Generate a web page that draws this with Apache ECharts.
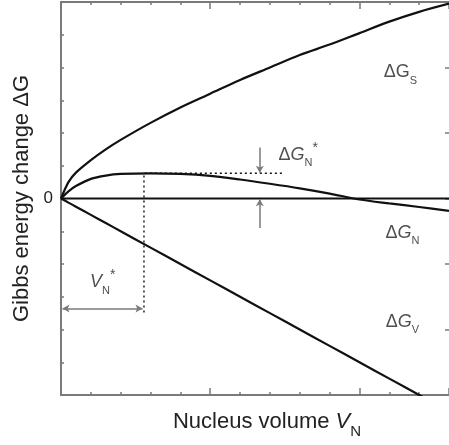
<!DOCTYPE html>
<html>
<head>
<meta charset="utf-8">
<script src="https://cdn.jsdelivr.net/npm/echarts@6/dist/echarts.min.js"></script>
<style>
  html, body { margin: 0; padding: 0; background: #fff; }
  #chart { width: 449px; height: 445px; }
</style>
</head>
<body>
<div id="chart"></div>
<script>
// nucleus volume (arbitrary units) and the three energy terms
const volumes = [0, 0.25, 0.5, 1, 1.5, 2, 3, 4, 5, 6, 7, 8, 9, 10, 11, 12, 13];
const surfaceG = [0, 0.5, 0.79, 1.17, 1.5, 1.79, 2.31, 2.78, 3.2, 3.62, 4.0, 4.38, 4.7, 5.05, 5.4, 5.7, 5.95];
const nucleusG = [0, 0.22, 0.38, 0.6, 0.7, 0.75, 0.77, 0.75, 0.69, 0.58, 0.45, 0.31, 0.15, -0.03, -0.15, -0.26, -0.38];
const volumeG = [0, -0.125, -0.25, -0.5, -0.75, -1, -1.5, -2, -2.5, -3, -3.5, -4, -4.5, -5, -5.5, -6, -6.5];

// critical nucleus
const criticalV = 2.78;
const criticalG = 0.77;

const zip = (xs, ys) => xs.map((x, i) => [x, ys[i]]);

const chartDom = document.getElementById('chart');
const chart = echarts.init(chartDom);

const axisGray = '#7a7a7a';
const ink = '#111';
const textInk = '#222';

const rich = {
  d: { fontSize: 18, color: textInk, fontFamily: 'Liberation Sans' },
  g: { fontSize: 18, color: textInk, fontStyle: 'italic', fontFamily: 'Liberation Sans' },
  gu: { fontSize: 18, color: textInk, fontFamily: 'Liberation Sans' },
  sub: { fontSize: 11, color: textInk, fontFamily: 'Liberation Sans', verticalAlign: 'bottom', lineHeight: 28 },
  sup: { fontSize: 14, color: textInk, fontFamily: 'Liberation Sans', verticalAlign: 'top', lineHeight: 28 }
};

const labels = [
  { value: [11.37, 3.86], text: '{d|Δ}{gu|G}{sub|S}' },
  { value: [7.95, 1.33], text: '{d|Δ}{g|G}{sub|N}{sup|*}' },
  { value: [11.44, -1.05], text: '{d|Δ}{g|G}{sub|N}' },
  { value: [11.44, -3.77], text: '{d|Δ}{g|G}{sub|V}' },
  { value: [1.4, -2.55], text: '{g|V}{sub|N}{sup|*}' }
];

const curve = (name, data) => ({
  name, type: 'line', data, smooth: 0.3, showSymbol: false,
  lineStyle: { color: ink, width: 2.2 }, xAxisIndex: 0, yAxisIndex: 0
});

const arrow = (from, to, both) => ({
  symbol: [both ? 'arrow' : 'none', 'arrow'],
  symbolSize: [6, 7],
  lineStyle: { color: axisGray, width: 1.5, type: 'solid' },
  data: [[{ coord: from }, { coord: to }]],
  label: { show: false },
  silent: true
});

const minorTicks = { show: true, inside: true, length: 3, lineStyle: { color: axisGray, width: 1.5 } };
const majorTicks = { show: true, inside: true, length: 7, lineStyle: { color: axisGray, width: 1.5 } };
const axisLine = { show: true, onZero: false, lineStyle: { color: axisGray, width: 2 } };
const noLine = { show: false, onZero: false };

const options = {
  animation: false,
  grid: { left: 61, right: -3, top: 2, bottom: 50 },
  xAxis: [
    {
      type: 'value', min: 0, max: 13, interval: 1, position: 'bottom',
      axisLine, axisTick: minorTicks, axisLabel: { show: false }, splitLine: { show: false },
      name: '{n|Nucleus volume }{v|V}{s|N}', nameLocation: 'middle', nameGap: 10,
      nameTextStyle: {
        padding: [0, 0, 0, 24],
        rich: {
          n: { fontSize: 22, color: textInk, fontFamily: 'Liberation Sans' },
          v: { fontSize: 22, color: textInk, fontStyle: 'italic', fontFamily: 'Liberation Sans' },
          s: { fontSize: 15, color: textInk, fontFamily: 'Liberation Sans', verticalAlign: 'bottom', lineHeight: 34 }
        }
      }
    },
    {
      type: 'value', min: 0, max: 13, interval: 5, position: 'bottom',
      axisLine: noLine, axisTick: majorTicks, axisLabel: { show: false }, splitLine: { show: false }
    },
    {
      type: 'value', min: 0, max: 13, interval: 1, position: 'top',
      axisLine, axisTick: minorTicks, axisLabel: { show: false }, splitLine: { show: false }
    },
    {
      type: 'value', min: 0, max: 13, interval: 5, position: 'top',
      axisLine: noLine, axisTick: majorTicks, axisLabel: { show: false }, splitLine: { show: false }
    }
  ],
  yAxis: [
    {
      type: 'value', min: -6, max: 6, interval: 1, position: 'left',
      axisLine, axisTick: minorTicks, splitLine: { show: false },
      axisLabel: {
        formatter: v => (v === 0 ? '0' : ''),
        fontSize: 17, color: textInk, margin: 8, fontFamily: 'Liberation Sans'
      },
      name: 'Gibbs energy change ΔG', nameLocation: 'middle', nameGap: 27,
      nameTextStyle: { fontSize: 22, color: textInk, fontFamily: 'Liberation Sans' }
    },
    {
      type: 'value', min: -6, max: 6, interval: 2, position: 'right',
      axisLine: noLine, axisTick: { show: true, inside: true, length: 4, lineStyle: { color: axisGray, width: 1.5 } },
      axisLabel: { show: false }, splitLine: { show: false }
    }
  ],
  series: [
    {
      name: 'zero', type: 'line', data: [[0, 0], [13, 0]], showSymbol: false,
      lineStyle: { color: ink, width: 2.2 }
    },
    curve('ΔGs', zip(volumes, surfaceG)),
    curve('ΔGv', zip(volumes, volumeG)),
    curve('ΔGn', zip(volumes, nucleusG)),
    {
      name: 'guides', type: 'line', showSymbol: false,
      data: [[7.4, criticalG], [criticalV, criticalG], [criticalV, -3.55]],
      lineStyle: { color: ink, width: 1.4, type: [2, 3] }
    },
    {
      name: 'arrows', type: 'line', data: [], showSymbol: false,
      markLine: arrow([6.66, 1.56], [6.66, criticalG + 0.02], false)
    },
    {
      name: 'arrows2', type: 'line', data: [], showSymbol: false,
      markLine: arrow([6.66, -0.9], [6.66, -0.02], false)
    },
    {
      name: 'arrows3', type: 'line', data: [], showSymbol: false,
      markLine: arrow([0.05, -3.36], [criticalV - 0.05, -3.36], true)
    },
    {
      name: 'labels', type: 'scatter', symbolSize: 0, silent: true,
      data: labels.map(l => ({ value: l.value, text: l.text })),
      label: {
        show: true, position: 'inside',
        formatter: p => p.data.text,
        rich
      }
    }
  ]
};

chart.setOption(options);
</script>
</body>
</html>
